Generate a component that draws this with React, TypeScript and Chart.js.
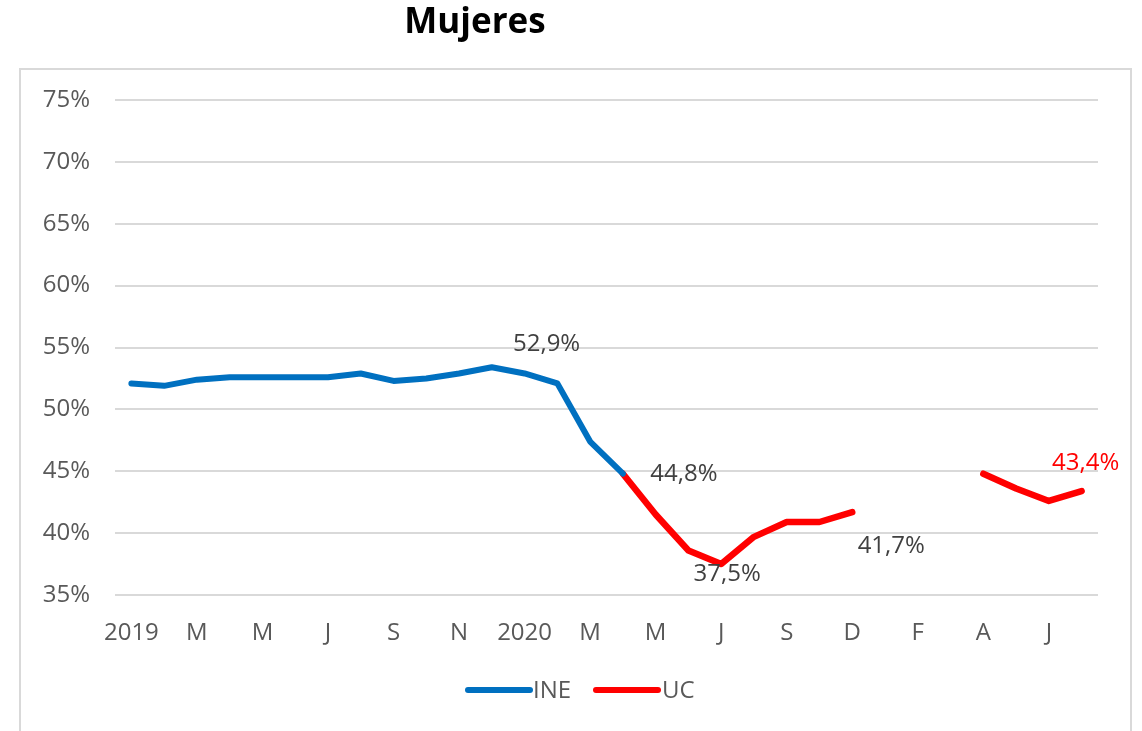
import React, { useEffect, useRef } from "react";
import { Chart, registerables } from "chart.js";

Chart.register(...registerables);

const categories: string[] = [
  "2019", "", "M", "", "M", "", "J", "", "S", "", "N", "",
  "2020", "", "M", "", "M", "", "J", "", "S", "", "D", "",
  "F", "", "A", "", "J", "",
];

const ineValues: (number | null)[] = [
  52.1, 51.9, 52.4, 52.6, 52.6, 52.6, 52.6, 52.9, 52.3, 52.5, 52.9, 53.4,
  52.9, 52.1, 47.4, 44.8, null, null, null, null, null, null, null, null,
  null, null, null, null, null, null,
];

const ucValues: (number | null)[] = [
  null, null, null, null, null, null, null, null, null, null, null, null,
  null, null, null, 44.8, 41.5, 38.6, 37.5, 39.7, 40.9, 40.9, 41.7, null,
  null, null, 44.8, 43.6, 42.6, 43.4,
];

const yTicks: number[] = [35, 40, 45, 50, 55, 60, 65, 70, 75];

const FONT = "'Open Sans', 'DejaVu Sans', sans-serif";
const fmt = (v: number) => v.toFixed(1).replace(".", ",") + "%";

const decorPlugin = {
  id: "decor",
  beforeDraw(chart: any) {
    const ctx = chart.ctx;
    ctx.save();
    ctx.fillStyle = "#ffffff";
    ctx.fillRect(0, 0, chart.width, chart.height);
    ctx.strokeStyle = "#d9d9d9";
    ctx.lineWidth = 2;
    ctx.strokeRect(20, 69, 1111, 720);
    ctx.fillStyle = "#000000";
    ctx.font = `bold 35px ${FONT}`;
    ctx.textAlign = "center";
    ctx.textBaseline = "middle";
    ctx.fillText("Mujeres", 475, 23);
    ctx.restore();
  },
  afterDraw(chart: any, _args: any, opts: any) {
    const ctx = chart.ctx;
    ctx.save();
    ctx.font = `24px ${FONT}`;
    ctx.textAlign = "center";
    ctx.textBaseline = "middle";
    for (const lab of opts.labels || []) {
      const meta = chart.getDatasetMeta(lab.ds);
      const pt = meta.data[lab.index];
      const v = chart.data.datasets[lab.ds].data[lab.index];
      if (!pt || v == null) continue;
      ctx.fillStyle = lab.color;
      ctx.fillText(fmt(v), pt.x + lab.dx, pt.y + lab.dy);
    }
    const items = [
      { ds: 0, x0: 468, x1: 530, tx: 533 },
      { ds: 1, x0: 596, x1: 658, tx: 662 },
    ];
    const ly = 690;
    ctx.textAlign = "left";
    for (const it of items) {
      const d = chart.data.datasets[it.ds];
      ctx.strokeStyle = d.borderColor;
      ctx.lineWidth = 6;
      ctx.lineCap = "round";
      ctx.beginPath();
      ctx.moveTo(it.x0, ly);
      ctx.lineTo(it.x1, ly);
      ctx.stroke();
      ctx.fillStyle = "#595959";
      ctx.fillText(d.label, it.tx, ly + 1);
    }
    ctx.restore();
  },
};

export default function App() {
  const ref = useRef<HTMLCanvasElement | null>(null);

  useEffect(() => {
    document.body.style.margin = "0";
    if (!ref.current) return;
    const chart = new Chart(ref.current, {
      type: "line",
      data: {
        labels: categories,
        datasets: [
          {
            label: "INE",
            data: ineValues,
            borderColor: "#0070c0",
            backgroundColor: "#0070c0",
            borderWidth: 6,
            pointRadius: 0,
            tension: 0,
            spanGaps: false,
            borderCapStyle: "round",
            borderJoinStyle: "round",
          },
          {
            label: "UC",
            data: ucValues,
            borderColor: "#ff0000",
            backgroundColor: "#ff0000",
            borderWidth: 6.5,
            pointRadius: 0,
            tension: 0,
            spanGaps: false,
            borderCapStyle: "round",
            borderJoinStyle: "round",
          },
        ],
      },
      options: {
        responsive: false,
        animation: false,
        devicePixelRatio: 1,
        layout: { padding: { left: 0, right: 44, top: 100, bottom: 76 } },
        plugins: {
          legend: { display: false },
          title: { display: false },
          tooltip: { enabled: false },
          decor: {
            labels: [
              { ds: 0, index: 12, dx: 22, dy: -29, color: "#404040" },
              { ds: 1, index: 15, dx: 61, dy: 0, color: "#404040" },
              { ds: 1, index: 18, dx: 6, dy: 10, color: "#404040" },
              { ds: 1, index: 22, dx: 39, dy: 34, color: "#404040" },
              { ds: 1, index: 29, dx: 4, dy: -28, color: "#ff0000" },
            ],
          },
        } as any,
        scales: {
          x: {
            offset: true,
            grid: { display: false, drawTicks: false },
            border: { display: false },
            ticks: {
              autoSkip: false,
              maxRotation: 0,
              minRotation: 0,
              padding: 24,
              color: "#595959",
              font: { family: FONT, size: 24 },
            },
            afterFit: (s: any) => {
              s.height = 60;
            },
          },
          y: {
            min: 35,
            max: 75,
            afterBuildTicks: (s: any) => {
              s.ticks = yTicks.map((v) => ({ value: v }));
            },
            grid: { color: "#d9d9d9", lineWidth: 2, drawTicks: false },
            border: { display: false },
            ticks: {
              padding: 25,
              color: "#595959",
              font: { family: FONT, size: 24 },
              callback: (v: any) => `${v}%`,
            },
            afterFit: (s: any) => {
              s.width = 115;
            },
          },
        },
      },
      plugins: [decorPlugin],
    });
    return () => chart.destroy();
  }, []);

  return (
    <div style={{ width: 1142, height: 731 }}>
      <canvas ref={ref} width={1142} height={731} style={{ width: 1142, height: 731, display: "block" }} />
    </div>
  );
}
